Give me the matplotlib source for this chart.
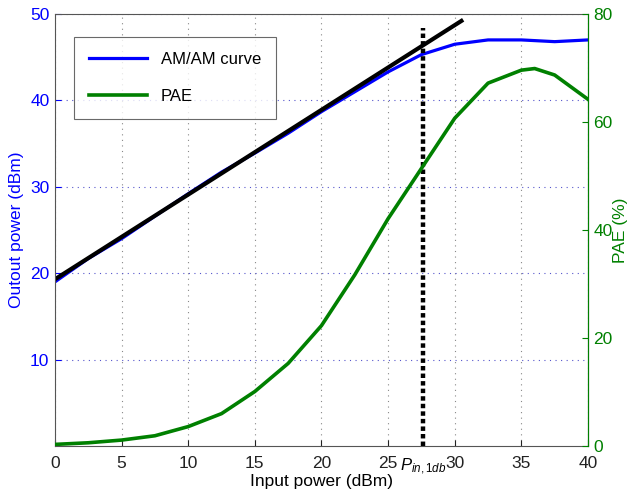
import numpy as np
import matplotlib.pyplot as plt

plt.rcParams['font.family'] = ['Liberation Sans', 'DejaVu Sans']
plt.rcParams['mathtext.fontset'] = 'custom'
plt.rcParams['mathtext.it'] = 'Liberation Sans:italic'
plt.rcParams['mathtext.rm'] = 'Liberation Sans'

# input power (dBm)
pin = [0, 2.5, 5, 7.5, 10, 12.5, 15, 17.5, 20, 22.5, 25, 27.5, 30, 32.5, 35, 37.5, 40]
# AM/AM curve, output power (dBm)
pout = [19.0, 21.7, 24.0, 26.6, 29.2, 31.7, 33.9, 36.2, 38.7, 41.0, 43.3, 45.3, 46.5, 47.0, 47.0, 46.8, 47.0]
# PAE (%)
pin_pae = [0, 2.5, 5, 7.5, 10, 12.5, 15, 17.5, 20, 22.5, 25, 27.5, 30, 32.5, 35, 36, 37.5, 40]
pae = [0.3, 0.6, 1.1, 1.9, 3.6, 6.0, 10.1, 15.3, 22.3, 31.7, 42.1, 51.4, 60.7, 67.2, 69.6, 69.9, 68.7, 64.2]
# linear tangent
tan_x = [0, 30.5]
tan_y = [19.3, 49.2]
# 1 dB compression point
p1db = 27.6
p1db_top = 48.4

blue = '#0000ff'
green = '#008000'

fig = plt.figure(figsize=(6.29, 4.93), dpi=100)
ax = fig.add_axes([0.0874, 0.0953, 0.8474, 0.8763])
ax2 = ax.twinx()

l1, = ax.plot(pin, pout, color=blue, lw=2.3, label='AM/AM curve')
ax.plot(tan_x, tan_y, color='black', lw=3.0)
ax.plot([p1db, p1db], [0, p1db_top], color='black', lw=3.2, ls=(0, (1.0, 0.7)))
l2, = ax2.plot(pin_pae, pae, color=green, lw=2.6, label='PAE')

ax.set_xlim(0, 40)
ax.set_ylim(0, 50)
ax2.set_ylim(0, 80)
ax.set_xticks(range(0, 41, 5))
ax.set_yticks([10, 20, 30, 40, 50])
ax2.set_yticks([0, 20, 40, 60, 80])

ax.grid(axis='x', color='#888888', ls=(0, (1, 4)), lw=0.8)
ax.grid(axis='y', color='#5555cc', ls=(0, (1, 4)), lw=0.8)
ax.set_axisbelow(True)

ax.tick_params(axis='y', colors=blue, labelsize=12.5, direction='in', length=4, pad=4)
ax.tick_params(axis='x', labelsize=12.5, direction='in', length=4, pad=7, colors='#222222')
ax2.tick_params(axis='y', colors=green, labelsize=12.5, direction='in', length=4, pad=4)
for s in ['top', 'bottom', 'left']:
    ax.spines[s].set_color('#555555')
ax2.spines['right'].set_color(green)
ax2.spines['left'].set_visible(False)
ax2.spines['top'].set_visible(False)
ax2.spines['bottom'].set_visible(False)

ax.set_xlabel('Input power (dBm)', fontsize=12.5, labelpad=2)
ax.set_ylabel('Outout power (dBm)', fontsize=12.5, color=blue, labelpad=4)
ax2.set_ylabel('PAE (%)', fontsize=12.5, color=green, labelpad=0)

ax.text(p1db, -1.2, r'$P_{in,1db}$', fontsize=12, ha='center', va='top')

leg = ax.legend(handles=[l1, l2], loc='upper left', bbox_to_anchor=(0.036, 0.947),
                borderaxespad=0, fontsize=12, frameon=True, fancybox=False,
                handlelength=3.5, borderpad=0.9, labelspacing=1.3, edgecolor='#444444')
leg.get_frame().set_linewidth(0.8)

fig.savefig('out.png', dpi=100)
